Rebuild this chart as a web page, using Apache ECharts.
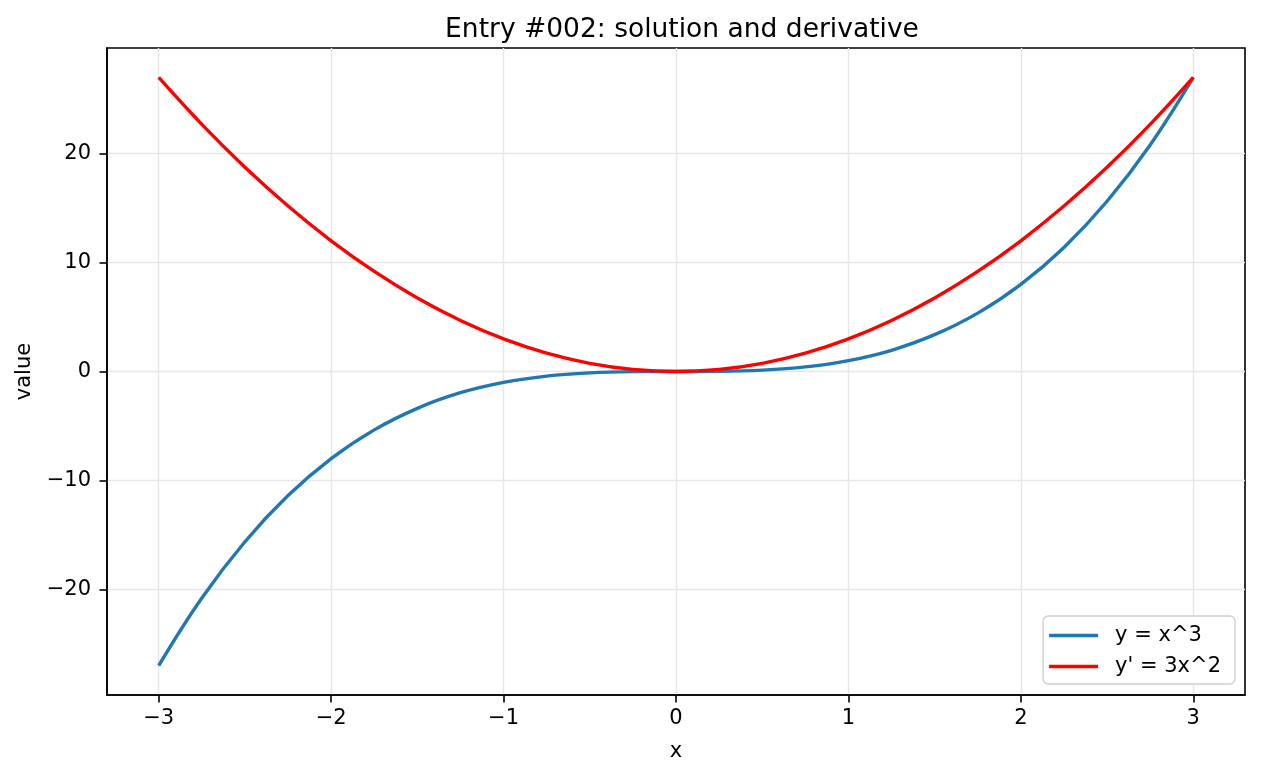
<!DOCTYPE html>
<html>
<head>
<meta charset="utf-8">
<script src="https://cdn.jsdelivr.net/npm/echarts@6/dist/echarts.min.js"></script>
<style>
  html, body { margin: 0; padding: 0; background: #fff; }
  #chart { width: 1261px; height: 776px; }
</style>
</head>
<body>
<div id="chart"></div>
<script>
// x samples and the two curves
const xs = [-3, -2.75, -2.5, -2.25, -2, -1.75, -1.5, -1.25, -1, -0.75, -0.5, -0.25, 0,
  0.25, 0.5, 0.75, 1, 1.25, 1.5, 1.75, 2, 2.25, 2.5, 2.75, 3];
const cube = [-27, -20.8, -15.63, -11.39, -8, -5.36, -3.38, -1.95, -1, -0.42, -0.125, -0.016, 0,
  0.016, 0.125, 0.42, 1, 1.95, 3.38, 5.36, 8, 11.39, 15.63, 20.8, 27];
const deriv = [27, 22.69, 18.75, 15.19, 12, 9.19, 6.75, 4.69, 3, 1.69, 0.75, 0.19, 0,
  0.19, 0.75, 1.69, 3, 4.69, 6.75, 9.19, 12, 15.19, 18.75, 22.69, 27];
const xTicks = [-3, -2, -1, 0, 1, 2, 3];
const yTicks = [-20, -10, 0, 10, 20];

const FONT = "DejaVu Sans";
const FS = 21;
const minus = (v) => String(v).replace("-", "\u2212");
const pairs = (ys) => xs.map((x, i) => [x, ys[i]]);

const axisCommon = {
  axisLine: { show: true, onZero: false, lineStyle: { color: "#000", width: 1.6 } },
  axisTick: { show: true, length: 7.5, lineStyle: { color: "#000", width: 1.6 } },
  axisLabel: { color: "#000", fontFamily: FONT, fontSize: FS, formatter: minus, margin: 15 },
  splitLine: { show: true, lineStyle: { color: "#e6e6e6", width: 1.4 } },
  nameTextStyle: { color: "#000", fontFamily: FONT, fontSize: FS },
};

const chart = echarts.init(document.getElementById("chart"));
chart.setOption({
  animation: false,
  title: {
    text: "Entry #002: solution and derivative", left: 677, top: 12, textAlign: "center",
    textStyle: { fontFamily: FONT, fontSize: 26.5, fontWeight: "normal", color: "#000" },
  },
  grid: { left: 107, right: 16, top: 48, bottom: 81, show: true, borderColor: "#000", borderWidth: 1.6 },
  xAxis: {
    ...axisCommon, type: "value", min: -3.3, max: 3.3,
    name: "x", nameLocation: "middle", nameGap: 46,
    axisTick: { ...axisCommon.axisTick, customValues: xTicks },
    axisLabel: { ...axisCommon.axisLabel, customValues: xTicks, margin: 13 },
  },
  yAxis: {
    ...axisCommon, type: "value", min: -29.7, max: 29.7,
    name: "value", nameLocation: "middle", nameGap: 72, nameRotate: 90,
    axisTick: { ...axisCommon.axisTick, customValues: yTicks },
    axisLabel: { ...axisCommon.axisLabel, customValues: yTicks, margin: 16 },
  },
  legend: {
    orient: "vertical", right: 26, bottom: 92,
    padding: [9, 14, 7, 6], itemGap: 10, itemWidth: 49, itemHeight: 3.5,
    borderColor: "#d0d0d0", borderWidth: 1.4, borderRadius: 5, backgroundColor: "#fff",
    textStyle: { fontFamily: FONT, fontSize: FS, color: "#000", padding: [0, 0, 0, 12] },
    data: [{ name: "y = x^3", icon: "rect" }, { name: "y' = 3x^2", icon: "rect" }],
    itemStyle: { borderWidth: 0 },
  },
  series: [
    { name: "y = x^3", type: "line", data: pairs(cube), smooth: 0.4, showSymbol: false,
      color: "#1f77b4", lineStyle: { color: "#1f77b4", width: 3.4 }, z: 2 },
    { name: "y' = 3x^2", type: "line", data: pairs(deriv), smooth: 0.4, showSymbol: false,
      color: "#ff0000", lineStyle: { color: "#ff0000", width: 3.4 }, z: 3 },
  ],
});
</script>
</body>
</html>
